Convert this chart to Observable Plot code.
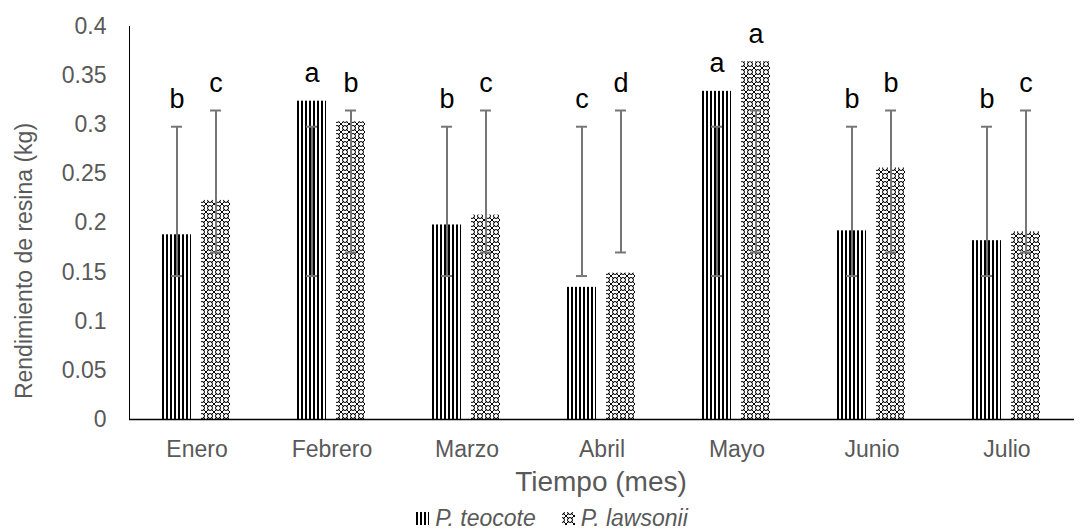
<!DOCTYPE html>
<html>
<head>
<meta charset="utf-8">
<script src="https://cdn.jsdelivr.net/npm/d3@7"></script>
<script src="https://cdn.jsdelivr.net/npm/@observablehq/plot@0.6"></script>
<style>
  body { margin: 0; background: #fff; font-family: "Liberation Sans", Arial, sans-serif; }
  #wrap { position: relative; width: 1090px; height: 529px; overflow: hidden; }
  .ytitle { position: absolute; left: 24px; top: 261px; transform: translate(-50%, -50%) rotate(-90deg); white-space: nowrap; font-size: 23px; color: #595959; }
  .xtitle { position: absolute; left: 601px; top: 482px; transform: translate(-50%, -50%); white-space: nowrap; font-size: 28px; color: #595959; }
  #legend { position: absolute; left: 0; top: 504px; width: 1090px; height: 28px; display: flex; justify-content: center; align-items: center; gap: 26px; font-size: 23px; font-style: italic; color: #595959; padding-left: 14px; box-sizing: border-box; }
  #legend span.item { display: inline-flex; align-items: center; gap: 6px; }
</style>
</head>
<body>
<svg width="0" height="0" style="position:absolute">
  <defs>
    <pattern id="stripes" patternUnits="userSpaceOnUse" width="4" height="4">
      <rect x="0" y="0" width="4" height="4" fill="#fff"/>
      <rect x="0" y="0" width="2" height="4" fill="#000"/>
    </pattern>
    <pattern id="checks" patternUnits="userSpaceOnUse" width="8" height="8">
      <rect x="0" y="0" width="8" height="8" fill="#fff"/>
      <path d="M1,1L7,7M7,1L1,7" stroke="#000" stroke-width="1"/>
      <circle cx="0" cy="0" r="2.5" fill="none" stroke="#000" stroke-width="1"/>
      <circle cx="8" cy="0" r="2.5" fill="none" stroke="#000" stroke-width="1"/>
      <circle cx="0" cy="8" r="2.5" fill="none" stroke="#000" stroke-width="1"/>
      <circle cx="8" cy="8" r="2.5" fill="none" stroke="#000" stroke-width="1"/>
    </pattern>
  </defs>
</svg>
<div id="wrap">
  <div id="chart"></div>
  <div class="ytitle">Rendimiento de resina (kg)</div>
  <div class="xtitle">Tiempo (mes)</div>
  <div id="legend">
    <span class="item"><svg width="13" height="13"><rect width="13" height="13" fill="url(#stripes)"/></svg>P. teocote</span>
    <span class="item"><svg width="13" height="13"><rect width="13" height="13" fill="url(#checks)"/></svg>P. lawsonii</span>
  </div>
</div>
<script>
const months = ["Enero","Febrero","Marzo","Abril","Mayo","Junio","Julio"];
const species = ["P. teocote","P. lawsonii"];
const teocote = [0.188, 0.324, 0.198, 0.1345, 0.334, 0.192, 0.182];
const lawsonii = [0.223, 0.303, 0.208, 0.149, 0.364, 0.256, 0.191];
const teocoteLetters = ["b","a","b","c","a","b","b"];
const lawsoniiLetters = ["c","b","c","d","a","b","c"];
const teocoteErrLow = [0.146, 0.146, 0.146, 0.146, 0.146, 0.146, 0.146];
const teocoteErrHigh = [0.298, 0.298, 0.298, 0.298, 0.298, 0.298, 0.298];
const lawsoniiErrLow = [0.170, 0.170, 0.170, 0.170, 0.170, 0.170, 0.170];
const lawsoniiErrHigh = [0.3145, 0.3145, 0.3145, 0.3145, 0.3145, 0.3145, 0.3145];
const yTicks = [0, 0.05, 0.1, 0.15, 0.2, 0.25, 0.3, 0.35, 0.4];

const patternOf = {"P. teocote": "url(#stripes)", "P. lawsonii": "url(#checks)"};
const data = [];
months.forEach((m, i) => {
  data.push({month: m, sp: species[0], v: teocote[i], lo: teocoteErrLow[i], hi: teocoteErrHigh[i], letter: teocoteLetters[i]});
  data.push({month: m, sp: species[1], v: lawsonii[i], lo: lawsoniiErrLow[i], hi: lawsoniiErrHigh[i], letter: lawsoniiLetters[i]});
});

const chart = Plot.plot({
  width: 1090,
  height: 500,
  marginLeft: 127,
  marginRight: 15,
  marginTop: 26,
  marginBottom: 81,
  style: {fontFamily: "Liberation Sans, Arial, sans-serif", fontSize: "23px", color: "#000", background: "#fff", overflow: "visible"},
  fx: {domain: months, padding: 0, label: null, tickSize: 0, tickPadding: 21, axis: "bottom"},
  x: {domain: species, paddingInner: 0.25, paddingOuter: 0.8175, axis: null},
  y: {domain: [0, 0.4], ticks: yTicks, tickSize: 0, tickPadding: 23, label: null, tickFormat: d => String(+d.toFixed(2)), line: true},
  color: {type: "identity"},
  marks: [
    Plot.barY(data, {fx: "month", x: "sp", y: "v", fill: d => patternOf[d.sp]}),
    Plot.ruleX(data, {fx: "month", x: "sp", y1: "lo", y2: "hi", stroke: "#767676", strokeWidth: 2}),
    Plot.tickY(data, {fx: "month", x: "sp", y: "lo", stroke: "#767676", strokeWidth: 2, insetLeft: 9, insetRight: 9}),
    Plot.tickY(data, {fx: "month", x: "sp", y: "hi", stroke: "#767676", strokeWidth: 2, insetLeft: 9, insetRight: 9}),
    Plot.text(data, {fx: "month", x: "sp", y: d => Math.max(d.v, d.hi), text: "letter", lineAnchor: "bottom", dy: -19, fontSize: 27, fill: "#000"}),
    Plot.ruleY([0], {stroke: "#000", strokeWidth: 1.5})
  ]
});
chart.querySelectorAll('g[aria-label]').forEach(g => {
  const l = g.getAttribute('aria-label');
  if (/tick label/.test(l)) g.style.color = "#595959";
});
document.getElementById("chart").appendChild(chart);
</script>
</body>
</html>
